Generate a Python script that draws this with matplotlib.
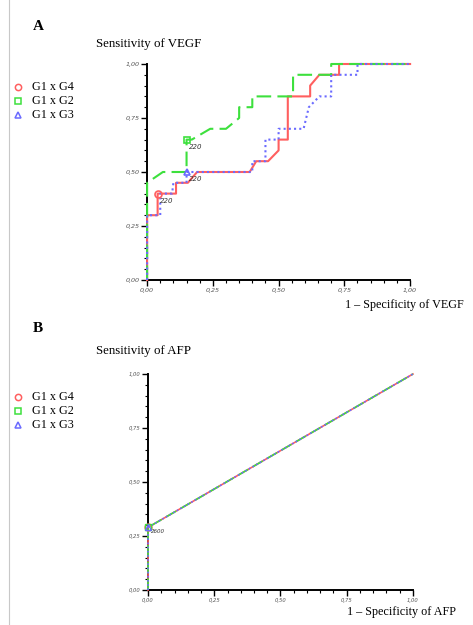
import matplotlib
matplotlib.use("Agg")
import matplotlib.pyplot as plt
from matplotlib.lines import Line2D
from matplotlib.ticker import MultipleLocator, FuncFormatter

# ROC curves, VEGF (panel A)
vegf_g4_x = [0, 0, 0.04, 0.04, 0.11, 0.11, 0.155, 0.19, 0.39, 0.415, 0.46, 0.50, 0.50,
             0.535, 0.535, 0.62, 0.62, 0.655, 0.73, 0.73, 1.0]
vegf_g4_y = [0, 0.30, 0.30, 0.40, 0.40, 0.45, 0.45, 0.50, 0.50, 0.55, 0.55, 0.60, 0.65,
             0.65, 0.85, 0.85, 0.90, 0.95, 0.95, 1.0, 1.0]
vegf_g2_x = [0, 0, 0.06, 0.15, 0.15, 0.17, 0.24, 0.30, 0.35, 0.35, 0.40, 0.40, 0.555,
             0.555, 0.70, 0.70, 1.0]
vegf_g2_y = [0, 0.45, 0.50, 0.50, 0.65, 0.65, 0.70, 0.70, 0.75, 0.80, 0.80, 0.85, 0.85,
             0.95, 0.95, 1.0, 1.0]
vegf_g3_x = [0, 0, 0.05, 0.05, 0.095, 0.10, 0.15, 0.15, 0.40, 0.40, 0.45, 0.45, 0.50,
             0.50, 0.595, 0.615, 0.655, 0.70, 0.70, 0.80, 0.80, 1.0]
vegf_g3_y = [0, 0.30, 0.30, 0.40, 0.40, 0.45, 0.45, 0.50, 0.50, 0.55, 0.55, 0.65, 0.65,
             0.70, 0.70, 0.80, 0.85, 0.85, 0.95, 0.95, 1.0, 1.0]
# cut-off points
vegf_cut_g4 = (0.04, 0.40)
vegf_cut_g2 = (0.15, 0.65)
vegf_cut_g3 = (0.15, 0.50)
vegf_cut_label = "220"

# ROC curves, AFP (panel B) - all three identical
afp_x = [0, 0, 1.0]
afp_y = [0, 0.29, 1.0]
afp_cut = (0, 0.29)
afp_cut_label = "2600"

groups = ["G1 x G4", "G1 x G2", "G1 x G3"]
colors = ["#ff5f5f", "#3de03d", "#6b6bff"]
markers = ["o", "s", "^"]
styles = ["-", (0, (7, 3)), (0, (1, 1.5))]

serif = "Liberation Serif"

fig = plt.figure(figsize=(4.73, 6.25), dpi=100)

# thin grey border line on the left
fig.add_artist(Line2D([0.02, 0.02], [0, 1], transform=fig.transFigure,
                      color="#c8c8c8", lw=0.8))


def style_axes(ax, tick_size):
    ax.set_xlim(0, 1)
    ax.set_ylim(0, 1)
    for s in ["top", "right"]:
        ax.spines[s].set_visible(False)
    for s in ["left", "bottom"]:
        ax.spines[s].set_linewidth(1.4)
    ax.xaxis.set_major_locator(MultipleLocator(0.25))
    ax.yaxis.set_major_locator(MultipleLocator(0.25))
    ax.xaxis.set_minor_locator(MultipleLocator(0.05))
    ax.yaxis.set_minor_locator(MultipleLocator(0.05))
    fmt = FuncFormatter(lambda v, p: f"{v:.2f}".replace(".", ","))
    ax.xaxis.set_major_formatter(fmt)
    ax.yaxis.set_major_formatter(fmt)
    ax.tick_params(which="major", length=4, width=1, direction="out", pad=1.5)
    ax.tick_params(which="minor", length=2.5, width=0.8, direction="out")
    for lab in ax.get_xticklabels() + ax.get_yticklabels():
        lab.set_fontsize(tick_size)
        lab.set_fontstyle("italic")
        lab.set_color("#555555")


def legend_block(y0):
    for i, (g, c, m) in enumerate(zip(groups, colors, markers)):
        y = y0 - i * 0.0225
        fig.add_artist(Line2D([0.037], [y], transform=fig.transFigure, marker=m,
                              markersize=4.5, mfc="none", mec=c, mew=1.1, ls="none"))
        fig.text(0.068, y, g, fontsize=8.7, family=serif, va="center", ha="left")


# ---------- Panel A ----------
axA = fig.add_axes([0.311, 0.552, 0.556, 0.3456])
for xs, ys, c, ls in zip([vegf_g4_x, vegf_g2_x, vegf_g3_x],
                         [vegf_g4_y, vegf_g2_y, vegf_g3_y], colors, styles):
    axA.plot(xs, ys, color=c, ls=ls, lw=1.5, clip_on=False, zorder=3)
for (px, py), c, m in zip([vegf_cut_g4, vegf_cut_g2, vegf_cut_g3], colors, markers):
    axA.plot(px, py, marker=m, markersize=5, mfc="none", mec=c, mew=1.2,
             clip_on=False, zorder=4)
    axA.annotate(vegf_cut_label, (px, py), xytext=(1.5, -5), textcoords="offset points",
                 fontsize=5, fontstyle="italic", color="#333333", va="center")
style_axes(axA, 4.6)

fig.text(0.07, 0.958, "A", fontsize=11, fontweight="bold", family=serif, va="center")
fig.text(0.202, 0.930, "Sensitivity of VEGF", fontsize=9.3, family=serif, va="center")
fig.text(0.73, 0.512, "1 \u2013 Specificity of VEGF", fontsize=8.7, family=serif,
         va="center")
legend_block(0.861)

# ---------- Panel B ----------
axB = fig.add_axes([0.313, 0.056, 0.560, 0.3456])
for c, ls in zip(colors, styles):
    axB.plot(afp_x, afp_y, color=c, ls=ls, lw=1.2, clip_on=False, zorder=3)
for c, m in zip(colors, markers):
    axB.plot(*afp_cut, marker=m, markersize=5, mfc="none", mec=c, mew=1.0,
             clip_on=False, zorder=4)
axB.annotate(afp_cut_label, afp_cut, xytext=(2, -3), textcoords="offset points",
             fontsize=4, fontstyle="italic", color="#333333", va="center")
style_axes(axB, 3.8)

fig.text(0.07, 0.475, "B", fontsize=11, fontweight="bold", family=serif, va="center")
fig.text(0.202, 0.438, "Sensitivity of AFP", fontsize=9.3, family=serif, va="center")
fig.text(0.733, 0.020, "1 \u2013 Specificity of AFP", fontsize=8.7, family=serif,
         va="center")
legend_block(0.365)

fig.savefig("out.png", dpi=100)
